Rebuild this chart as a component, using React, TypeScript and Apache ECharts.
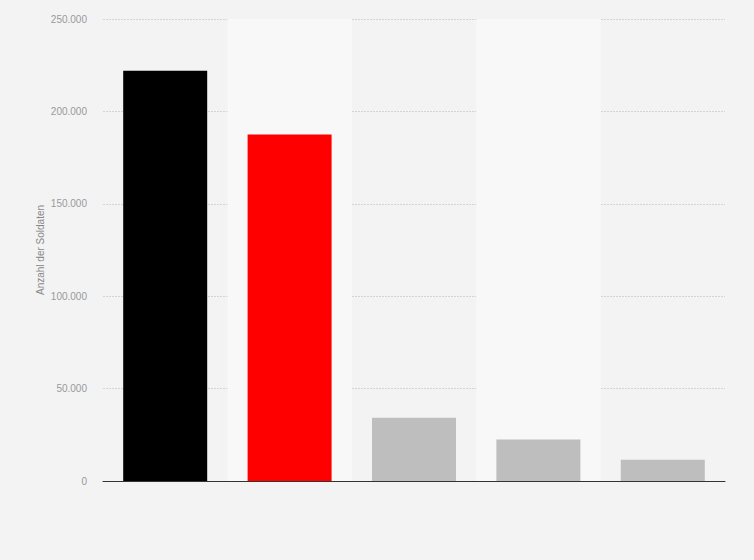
import * as echarts from 'echarts';
import { useEffect, useRef } from 'react';

// categories have no visible labels in the reference
const categories = ['1', '2', '3', '4', '5'];
const soldiers = [222000, 187500, 34200, 22500, 11500];
const barColors = ['#000000', '#ff0000', '#bebebe', '#bebebe', '#bebebe'];
const yTicks = [0, 50000, 100000, 150000, 200000, 250000];

const fmt = (v: number) => v.toLocaleString('de-DE');

export default function App() {
  const ref = useRef<HTMLDivElement>(null);

  useEffect(() => {
    if (!ref.current) return;
    const chart = echarts.init(ref.current, undefined, { renderer: 'svg' });
    chart.setOption({
      animation: false,
      backgroundColor: '#f3f3f3',
      textStyle: { fontFamily: 'Liberation Sans, Arial, sans-serif' },
      grid: { left: 103, right: 29, top: 19, bottom: 79 },
      xAxis: {
        type: 'category',
        data: categories,
        axisLabel: { show: false },
        axisTick: { show: false },
        axisLine: { lineStyle: { color: '#333', width: 1 } },
        splitArea: {
          show: true,
          areaStyle: { color: ['rgba(0,0,0,0)', '#f8f8f8'] },
        },
      },
      yAxis: {
        type: 'value',
        min: yTicks[0],
        max: yTicks[yTicks.length - 1],
        interval: 50000,
        name: 'Anzahl der Soldaten',
        nameLocation: 'middle',
        nameGap: 58,
        nameMoveOverlap: false,
        nameTextStyle: { color: '#888', fontSize: 10 },
        axisLine: { show: false },
        axisTick: { show: false },
        axisLabel: { color: '#999', fontSize: 10, margin: 16, formatter: fmt },
        splitLine: { lineStyle: { color: '#d4d4d4', type: [2, 1] } },
      },
      series: [
        {
          type: 'bar',
          barWidth: 84,
          data: soldiers.map((v, i) => ({
            value: v,
            itemStyle: { color: barColors[i] },
          })),
        },
      ],
    });
    return () => chart.dispose();
  }, []);

  return (
    <div
      ref={ref}
      style={{ position: 'fixed', left: 0, top: 0, width: 754, height: 560 }}
    />
  );
}
